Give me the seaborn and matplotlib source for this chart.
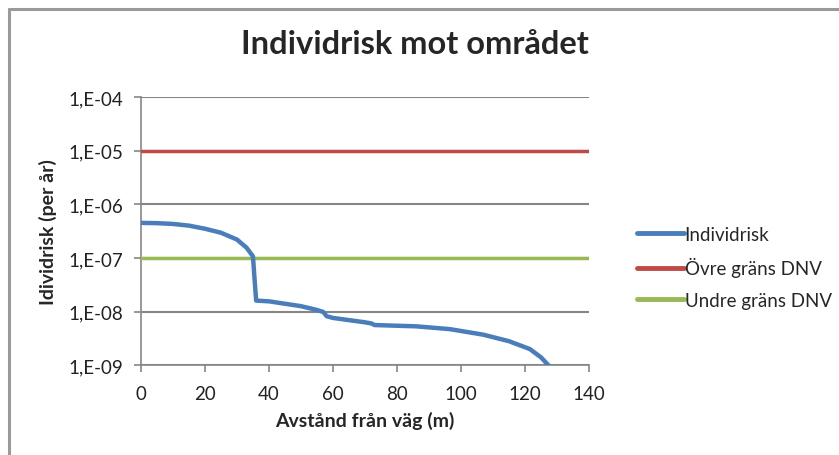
import numpy as np
import pandas as pd
import matplotlib
matplotlib.use("Agg")
import matplotlib.pyplot as plt
import matplotlib.ticker as mticker
from matplotlib.lines import Line2D
import seaborn as sns

# Data
avstand = [0, 5, 10, 15, 20, 25, 30, 33, 35, 35.5, 36, 40, 50, 55, 57, 58, 60, 70, 72, 73,
           86, 96.5, 107, 115, 121.5, 125, 127.3]
individrisk = [4.5e-7, 4.45e-7, 4.3e-7, 4.0e-7, 3.5e-7, 2.95e-7, 2.2e-7, 1.55e-7, 1.07e-7,
               4e-8, 1.6e-8, 1.55e-8, 1.26e-8, 1.07e-8, 9.8e-9, 8.2e-9, 7.6e-9, 6.3e-9,
               6.0e-9, 5.6e-9, 5.3e-9, 4.7e-9, 3.7e-9, 2.8e-9, 2.0e-9, 1.4e-9, 1.0e-9]
ovre_grans = 1e-5
undre_grans = 1e-7
y_ticks = [1e-9, 1e-8, 1e-7, 1e-6, 1e-5, 1e-4]
x_ticks = [0, 20, 40, 60, 80, 100, 120, 140]

df = pd.DataFrame({"Avstand": avstand, "Individrisk": individrisk})

sns.set_style("white")
plt.rcParams["font.family"] = ["Lato", "DejaVu Sans"]

blue = "#4A7EBB"
red = "#BE4B48"
green = "#98B954"
grid_col = "#868686"

fig = plt.figure(figsize=(8.39, 4.56), dpi=100)
ax = fig.add_axes([0.168, 0.197, 0.534, 0.588])

ax.axhline(ovre_grans, color=red, lw=2.5, zorder=3)
ax.axhline(undre_grans, color=green, lw=2.5, zorder=3)
sns.lineplot(data=df, x="Avstand", y="Individrisk", color=blue, lw=3.2, ax=ax, zorder=4)

ax.set_yscale("log")
ax.set_ylim(1e-9, 1e-4)
ax.set_xlim(0, 140)
ax.set_yticks(y_ticks)
ax.yaxis.set_minor_locator(mticker.NullLocator())
ax.yaxis.set_major_formatter(mticker.FuncFormatter(
    lambda v, p: "1,E-%02d" % int(round(-np.log10(v)))))
ax.set_xticks(x_ticks)

for y in y_ticks:
    ax.axhline(y, color=grid_col, lw=1.5, zorder=1)

for s in ["top", "right"]:
    ax.spines[s].set_visible(False)
for s in ["left", "bottom"]:
    ax.spines[s].set_color(grid_col)
    ax.spines[s].set_linewidth(1.2)

ax.tick_params(axis="both", which="major", direction="out", length=5, width=1.2,
               color=grid_col, labelsize=13.5, labelcolor="#222222")
ax.tick_params(axis="x", pad=9)
ax.tick_params(axis="y", pad=8)
ax.tick_params(left=True, bottom=True)

ax.set_xlabel("Avstånd från väg (m)", fontsize=14, fontweight="bold", labelpad=7)
ax.set_ylabel("Idividrisk (per år)", fontsize=14, fontweight="bold", labelpad=8)

fig.suptitle("Individrisk mot området", fontsize=23.5, fontweight="bold", x=0.495, y=0.935)

handles = [Line2D([], [], color=blue, lw=3.5),
           Line2D([], [], color=red, lw=3.5),
           Line2D([], [], color=green, lw=3.5)]
labels = ["Individrisk", "Övre gräns DNV", "Undre gräns DNV"]
fig.legend(handles, labels, loc="upper left", bbox_to_anchor=(0.739, 0.54),
           frameon=False, fontsize=13.5, handlelength=2.5, handletextpad=0.05,
           labelspacing=0.78)

# chart area border
fig.add_artist(Line2D([0.0105, 0.0105], [0.0, 0.977], color="#9a9a9a", lw=2.2,
                      transform=fig.transFigure))
fig.add_artist(Line2D([0.0105, 1.0], [0.977, 0.977], color="#9a9a9a", lw=2.2,
                      transform=fig.transFigure))

fig.savefig("out.png", dpi=100)
